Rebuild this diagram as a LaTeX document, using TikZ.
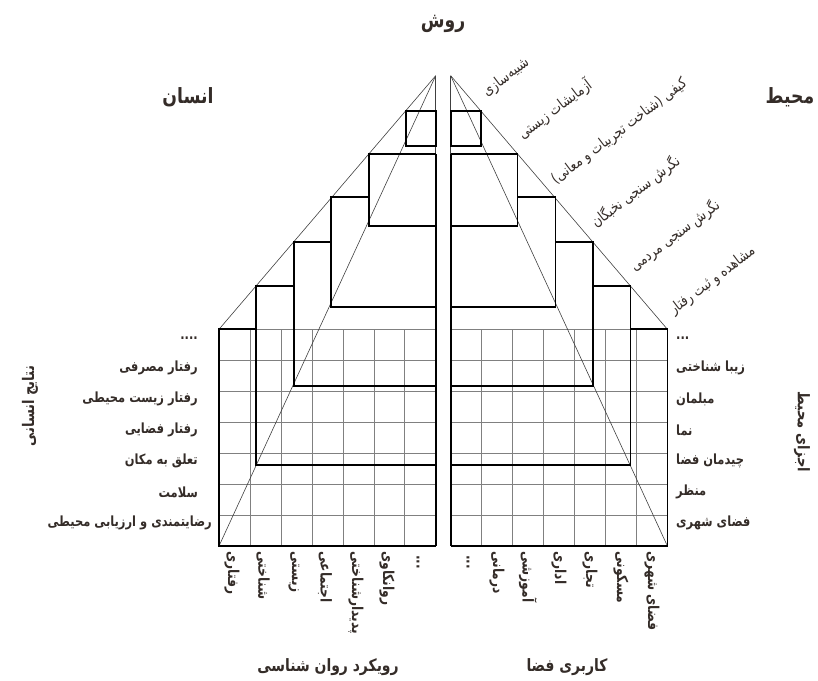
\documentclass[tikz,border=0pt]{standalone}
\usepackage{fontspec}
\usepackage{xcolor}
\usepackage{tikz}
\usetikzlibrary{positioning}
\TeXXeTstate=1
\newfontfamily\persianfont[Script=Arabic,FakeStretch=0.82]{DejaVu Sans}
\definecolor{inkbrown}{RGB}{52,44,40}

\begin{document}
\begin{tikzpicture}[x=1pt,y=-1pt,
    thickbox/.style={line width=1.8pt,black,line join=miter},
    thinline/.style={line width=0.6pt,black!75},
    gridline/.style={line width=0.6pt,black!50},
    title/.style={font=\persianfont\bfseries\fontsize{21}{23}\selectfont,text=inkbrown},
    sidetitle/.style={font=\persianfont\bfseries\fontsize{16}{18}\selectfont,text=inkbrown},
    axistitle/.style={font=\persianfont\bfseries\fontsize{17}{19}\selectfont,text=inkbrown},
    rowlbl/.style={font=\persianfont\bfseries\fontsize{14}{16}\selectfont,text=inkbrown,inner sep=0pt},
    collbl/.style={rowlbl,font=\persianfont\bfseries\fontsize{15}{17}\selectfont,rotate=-90,anchor=west},
    slopelbl/.style={font=\persianfont\fontsize{15}{17}\selectfont,text=inkbrown,rotate=37,anchor=south west,inner sep=0pt}]
    \useasboundingbox (0,0) rectangle (818,680);

    % both halves: the right one is the mirror of the left one
    \foreach \sx/\sc/\s in {0/1/L, 886.4/-1/R}{
    \begin{scope}[xshift=\sx pt,xscale=\sc]
        \coordinate (apex\s) at (435.7,75.7);
        \coordinate (nw\s) at (219,329.3);
        \coordinate (sw\s) at (219,546);
        \coordinate (se\s) at (435.7,546);

        % grid 7 x 7
        \foreach \i in {0,...,6}{
            \draw[gridline] ({219+\i*30.96},329.3) -- ++(0,216.7);
            \draw[gridline] (219,{329.3+\i*30.96}) -- ++(216.7,0);
        }

        \draw[thinline] (apex\s) -- (nw\s);
        \draw[thinline] (apex\s) -- (sw\s);
        \draw[thinline] (apex\s) -- (se\s);

        % stepped boxes
        \foreach \lx/\ty/\by/\nx in {219/329.3/546/256, 256/285.7/465/293.7,
            293.7/241.7/386/331, 331/197.3/307/369, 369/154.3/225.7/435.7}
            \draw[thickbox] (435.7,\by) -| (\lx,\ty) -- (\nx,\ty);
        \draw[thickbox] (435.7,154.3) -- (se\s);
        \draw[thickbox] (405.7,110.7) rectangle (435.7,146);
    \end{scope}
    }

    % titles
    \node[title] (method) at (443,24) {\beginR روش\endR};
    \node[title] (human)  at (188,97) {\beginR انسان\endR};
    \node[title] (envir)  at (790,97) {\beginR محیط\endR};
    \node[sidetitle,rotate=90]  (outcome) at (30,406)  {\beginR نتایج انسانی\endR};
    \node[sidetitle,rotate=-90] (parts)   at (802,432) {\beginR اجزای محیط\endR};
    \node[axistitle] (approach) at (328,667) {\beginR رویکرد روان شناسی\endR};
    \node[axistitle] (landuse)  at (567,667) {\beginR کاربری فضا\endR};

    % methods along the slope
    \node[slopelbl] (sim)    at (489,100) {\beginR شبیه‌سازی\endR};
    \node[slopelbl] (bio)    at (525,143) {\beginR آزمایشات زیستی\endR};
    \node[slopelbl] (qual)   at (558,188) {\beginR کیفی (شناخت تجربیات و معانی)\endR};
    \node[slopelbl] (elite)  at (598,231) {\beginR نگرش سنجی نخبگان\endR};
    \node[slopelbl] (public) at (637,275) {\beginR نگرش سنجی مردمی\endR};
    \node[slopelbl] (obs)    at (676,318) {\beginR مشاهده و ثبت رفتار\endR};

    % human outcomes
    \node[rowlbl,anchor=east] (hEtc)    at (198,338) {....};
    \node[rowlbl,anchor=east] (hBuy)    at (198,368) {\beginR رفتار مصرفی\endR};
    \node[rowlbl,anchor=east] (hEco)    at (198,399) {\beginR رفتار زیست محیطی\endR};
    \node[rowlbl,anchor=east] (hSpace)  at (198,430) {\beginR رفتار فضایی\endR};
    \node[rowlbl,anchor=east] (hPlace)  at (198,461) {\beginR تعلق به مکان\endR};
    \node[rowlbl,anchor=east] (hHealth) at (198,492) {\beginR سلامت\endR};
    \node[rowlbl,anchor=east] (hSatis)  at (212,523) {\beginR رضایتمندی و ارزیابی محیطی\endR};

    % environment parts
    \node[rowlbl,anchor=west] (eEtc)    at (676,338) {...};
    \node[rowlbl,anchor=west] (eAesth)  at (676,368) {\beginR زیبا شناختی\endR};
    \node[rowlbl,anchor=west] (eFurn)   at (676,399) {\beginR مبلمان\endR};
    \node[rowlbl,anchor=west] (eFacade) at (676,430) {\beginR نما\endR};
    \node[rowlbl,anchor=west] (eLayout) at (676,461) {\beginR چیدمان فضا\endR};
    \node[rowlbl,anchor=west] (eView)   at (676,492) {\beginR منظر\endR};
    \node[rowlbl,anchor=west] (eUrban)  at (676,523) {\beginR فضای شهری\endR};

    % psychology approaches
    \node[collbl] (pBehav) at (232,551) {\beginR رفتاری\endR};
    \node[collbl] (pCogn)  at (263,551) {\beginR شناختی\endR};
    \node[collbl] (pBio)   at (294,551) {\beginR زیستی\endR};
    \node[collbl] (pSoc)   at (325,551) {\beginR اجتماعی\endR};
    \node[collbl] (pPhen)  at (356,551) {\beginR پدیدارشناختی\endR};
    \node[collbl] (pPsy)   at (387,551) {\beginR روانکاوی\endR};
    \node[collbl] (pEtc)   at (418,555) {...};

    % land uses
    \node[collbl] (uEtc)   at (468,555) {...};
    \node[collbl] (uCure)  at (497,551) {\beginR درمانی\endR};
    \node[collbl] (uEdu)   at (528,551) {\beginR آموزشی\endR};
    \node[collbl] (uOff)   at (559,551) {\beginR اداری\endR};
    \node[collbl] (uTrade) at (590,551) {\beginR تجاری\endR};
    \node[collbl] (uHome)  at (621,551) {\beginR مسکونی\endR};
    \node[collbl] (uUrban) at (652,551) {\beginR فضای شهری\endR};
\end{tikzpicture}
\end{document}
